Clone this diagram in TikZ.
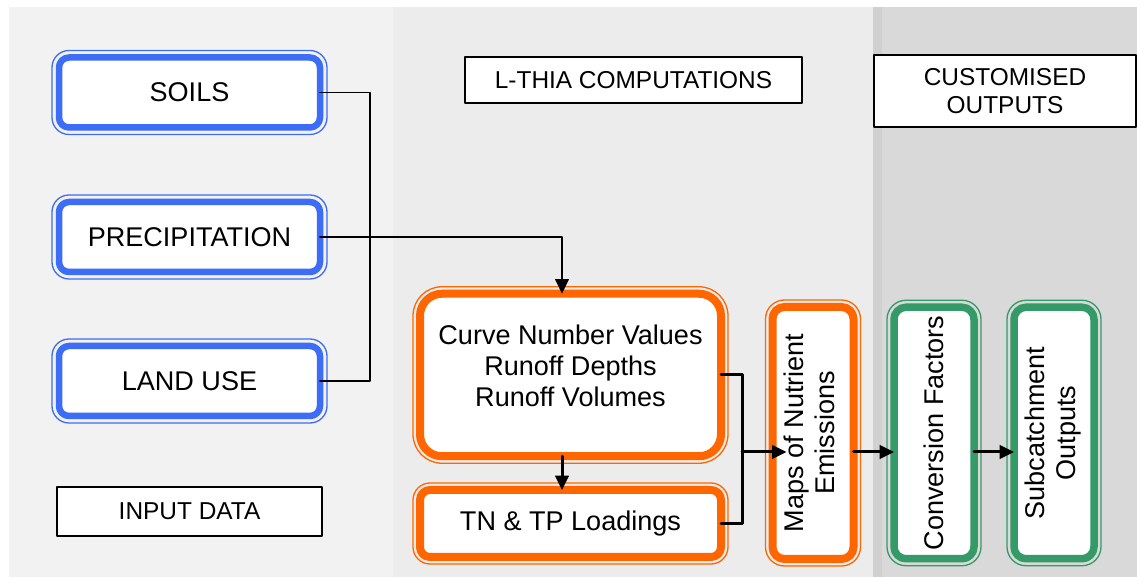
\documentclass[tikz,border=0pt]{standalone}
\usepackage{fontspec}
\setmainfont{Liberation Sans}
\usepackage{graphicx}
\usetikzlibrary{arrows.meta}
\definecolor{inputBlue}{RGB}{61,108,246}
\definecolor{calcOrange}{RGB}{255,102,0}
\definecolor{outGreen}{RGB}{52,154,104}
\definecolor{panelLeft}{RGB}{242,242,242}
\definecolor{panelMid}{RGB}{236,236,236}
\definecolor{panelRight}{RGB}{217,217,217}
\definecolor{panelEdge}{RGB}{208,208,208}

\begin{document}
\begin{tikzpicture}
% L-THIA workflow, drawn in pixel units
\def\px{0.02cm}
\providecommand{\lthiaBoxFont}{\fontsize{15.4}{17.6}\selectfont}
\providecommand{\lthiaTagFont}{\fontsize{13.9}{15.9}\selectfont}
\begin{scope}[x=\px, y=-\px, line cap=round, line join=round,
  flowbox/.style={draw=#1, fill=white, outer sep=0pt, inner sep=0pt, align=center, font=\lthiaBoxFont},
  inbox/.style={flowbox=inputBlue, line width=6.5*\px, rounded corners=10*\px, minimum width=261*\px, minimum height=70*\px},
  calcbox/.style={flowbox=calcOrange, line width=8*\px, minimum width=301*\px},
  outbox/.style={flowbox=outGreen, line width=7.5*\px, rounded corners=12*\px, minimum width=80*\px, minimum height=251.5*\px},
  tagbox/.style={draw=black, line width=1.6*\px, fill=white, outer sep=0pt, inner sep=0pt, align=center, font=\lthiaTagFont},
  link/.style={draw=black, line width=3*\px},
  feed/.style={link, -{Triangle[length=0.29cm, width=0.27cm]}}]
  \useasboundingbox (0,0) rectangle (1137,577);
  % Background panels
  \fill[panelLeft] (9,7) rectangle (393,577);
  \fill[panelMid] (393,7) rectangle (873,577);
  \fill[panelRight] (873,7) rectangle (1137,577);
  \fill[panelEdge] (873,7) rectangle (882,577);
  % Panel titles
  \node[tagbox, minimum width=337*\px, minimum height=46*\px] (lthia) at (633.5,80) {L-THIA COMPUTATIONS};
  \node[tagbox, minimum width=262*\px, minimum height=72*\px] (custom) at (1005,91) {CUSTOMISED\\OUTPUTS};
  \node[tagbox, minimum width=265*\px, minimum height=49*\px] (inputtag) at (189.5,511.5) {INPUT DATA};
  % Input data
  \node[inbox] (soils) at (189.5,92.5) {SOILS};
  \node[inbox] (precip) at (189.5,237) {PRECIPITATION};
  \node[inbox] (landuse) at (189.5,381) {LAND USE};
  % Computations
  \node[calcbox, rounded corners=22*\px, minimum height=162.5*\px] (curve) at (570.5,375)
    {\raisebox{0.12cm}[\height][\depth]{\begin{tabular}{@{}c@{}}Curve Number Values\\Runoff Depths\\Runoff Volumes\end{tabular}}};
  \node[calcbox, rounded corners=10*\px, minimum height=67*\px] (loads) at (570.5,523.5) {TN \& TP Loadings};
  \node[flowbox=calcOrange, line width=8*\px, rounded corners=12*\px, minimum width=81*\px, minimum height=252*\px] (maps) at (813,433)
    {\rotatebox{90}{\begin{tabular}{@{}c@{}}Maps of Nutrient\\Emissions\end{tabular}}};
  % Outputs
  \node[outbox] (convert) at (934,433) {\rotatebox{90}{Conversion Factors}};
  \node[outbox] (subcatch) at (1054,433) {\rotatebox{90}{\begin{tabular}{@{}c@{}}Subcatchment\\Outputs\end{tabular}}};
  % Thin outer rings
  \foreach \n/\c/\r in {soils/inputBlue/10, precip/inputBlue/10, landuse/inputBlue/10, curve/calcOrange/22, loads/calcOrange/10, maps/calcOrange/12, convert/outGreen/12, subcatch/outGreen/12}
    \draw[draw=\c, line width=1.3*\px, rounded corners=(\r+7)*\px] ([shift={(-7,-7)}]\n.north west) rectangle ([shift={(7,7)}]\n.south east);
  % Connectors
  \coordinate (merge) at (370,237);
  \coordinate (drop) at (562,237);
  \coordinate (join) at (742,452);
  \draw[link, line width=1.7*\px] (soils.east) -| (merge) |- (landuse.east);
  \draw[feed, line width=2*\px] (precip.east) -- (drop) -- (drop |- curve.north);
  \draw[feed] (drop |- curve.south) -- (drop |- loads.north);
  \draw[link] (curve.east) -| (join) |- (loads.east);
  \draw[feed, shorten >=-0.28cm] (join) -- (join -| maps.west);
  \draw[feed] (join -| maps.east) -- (join -| convert.west);
  \draw[feed] (join -| convert.east) -- (join -| subcatch.west);
\end{scope}
\end{tikzpicture}
\end{document}
